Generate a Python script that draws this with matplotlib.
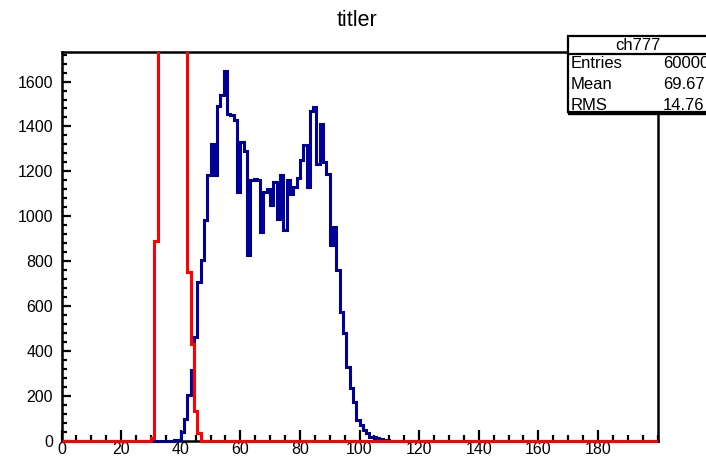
import numpy as np
import matplotlib
matplotlib.use("Agg")
import matplotlib.pyplot as plt
from matplotlib.patches import Rectangle
from matplotlib.lines import Line2D
from matplotlib.ticker import MultipleLocator, FixedLocator

plt.rcParams['font.family'] = ['Liberation Sans', 'DejaVu Sans']

# binning of both histograms: 180 bins over [0, 200]
n_bins = 180
x_min, x_max = 0, 200

# ch777 (blue), counts from bin 33 onwards
blue_first_bin = 33
blue_counts = [1, 3, 6, 40, 100, 205, 316, 464, 708, 804,
               985, 1182, 1323, 1182, 1493, 1540, 1649, 1456, 1450, 1427,
               1108, 1330, 1293, 827, 1160, 1167, 1160, 930, 1108, 1123,
               1049, 1152, 990, 1182, 938, 1160, 1101, 1130, 1170, 1249,
               1316, 1130, 1471, 1486, 1234, 1411, 1241, 1190, 871, 952,
               760, 575, 479, 330, 234, 175, 93, 71, 49, 34,
               20, 17, 12, 10, 4, 3, 1]

# second histogram (red), counts from bin 27 onwards, goes off scale
red_first_bin = 27
red_counts = [15, 890, 2500, 4200, 5600, 6400, 6600, 6300, 5500, 4300,
              2900, 750, 432, 134, 37]

x_ticks = [0, 20, 40, 60, 80, 100, 120, 140, 160, 180]
y_ticks = [0, 200, 400, 600, 800, 1000, 1200, 1400, 1600]

stats_name = "ch777"
stats_rows = [("Entries", "60000"), ("Mean", "69.67"), ("RMS", "14.76")]

edges = np.linspace(x_min, x_max, n_bins + 1)
blue = np.zeros(n_bins)
blue[blue_first_bin:blue_first_bin + len(blue_counts)] = blue_counts
red = np.zeros(n_bins)
red[red_first_bin:red_first_bin + len(red_counts)] = red_counts

W, H = 706, 457
fig = plt.figure(figsize=(W / 100, H / 100), dpi=100)
ax = fig.add_axes([61.5 / W, 16 / H, 596 / W, 389 / H])

# let the lines sit on the bottom axis like ROOT does
clip = Rectangle((0, -0.02), 1, 1.02, transform=ax.transAxes)
b = ax.stairs(blue, edges, color='#000099', linewidth=2.2, zorder=3)
r = ax.stairs(red, edges, color='#ff0000', linewidth=2.2, zorder=4)
b.set_clip_path(clip)
r.set_clip_path(clip)

ax.set_xlim(x_min, x_max)
ax.set_ylim(0, max(blue_counts) * 1.05)

ax.xaxis.set_major_locator(FixedLocator(x_ticks))
ax.xaxis.set_minor_locator(MultipleLocator(5))
ax.yaxis.set_major_locator(FixedLocator(y_ticks))
ax.yaxis.set_minor_locator(MultipleLocator(40))
ax.tick_params(which='both', direction='in', top=False, right=False,
               width=1.6, color='black', labelsize=11.5)
ax.tick_params(axis='x', which='major', length=8, pad=1)
ax.tick_params(axis='x', which='minor', length=4)
ax.tick_params(axis='y', which='major', length=6.5, pad=6)
ax.tick_params(axis='y', which='minor', length=3.5)

for s in ax.spines.values():
    s.set_linewidth(1.8)
    s.set_zorder(2)

fig.text(357 / W, 1 - 20 / H, "titler", ha='center', va='center', fontsize=15.5)

# stats box (runs off the right edge)
bx0, bx1, by0, by1 = 568, 716, 36, 112
fig.add_artist(Rectangle((bx0 / W, 1 - (by1 + 2) / H), (bx1 - bx0) / W, (by1 - by0) / H,
                         transform=fig.transFigure, facecolor='black',
                         edgecolor='black', zorder=9, clip_on=False))
fig.add_artist(Rectangle((bx0 / W, 1 - by1 / H), (bx1 - bx0) / W, (by1 - by0) / H,
                         transform=fig.transFigure, facecolor='white',
                         edgecolor='black', linewidth=1.6, zorder=10, clip_on=False))
fig.add_artist(Line2D([bx0 / W, bx1 / W], [1 - 54 / H, 1 - 54 / H],
                      transform=fig.transFigure, color='black', linewidth=1.6, zorder=11))
fig.text(638 / W, 1 - 45 / H, stats_name, ha='center', va='center', fontsize=12, zorder=12)
for i, (label, val) in enumerate(stats_rows):
    y = 1 - (64 + 20.5 * i) / H
    fig.text(571 / W, y, label, ha='left', va='center', fontsize=12, zorder=12)
    fig.text(663 / W, y, val, ha='left', va='center', fontsize=12, zorder=12)

fig.savefig("out.png", dpi=100)
